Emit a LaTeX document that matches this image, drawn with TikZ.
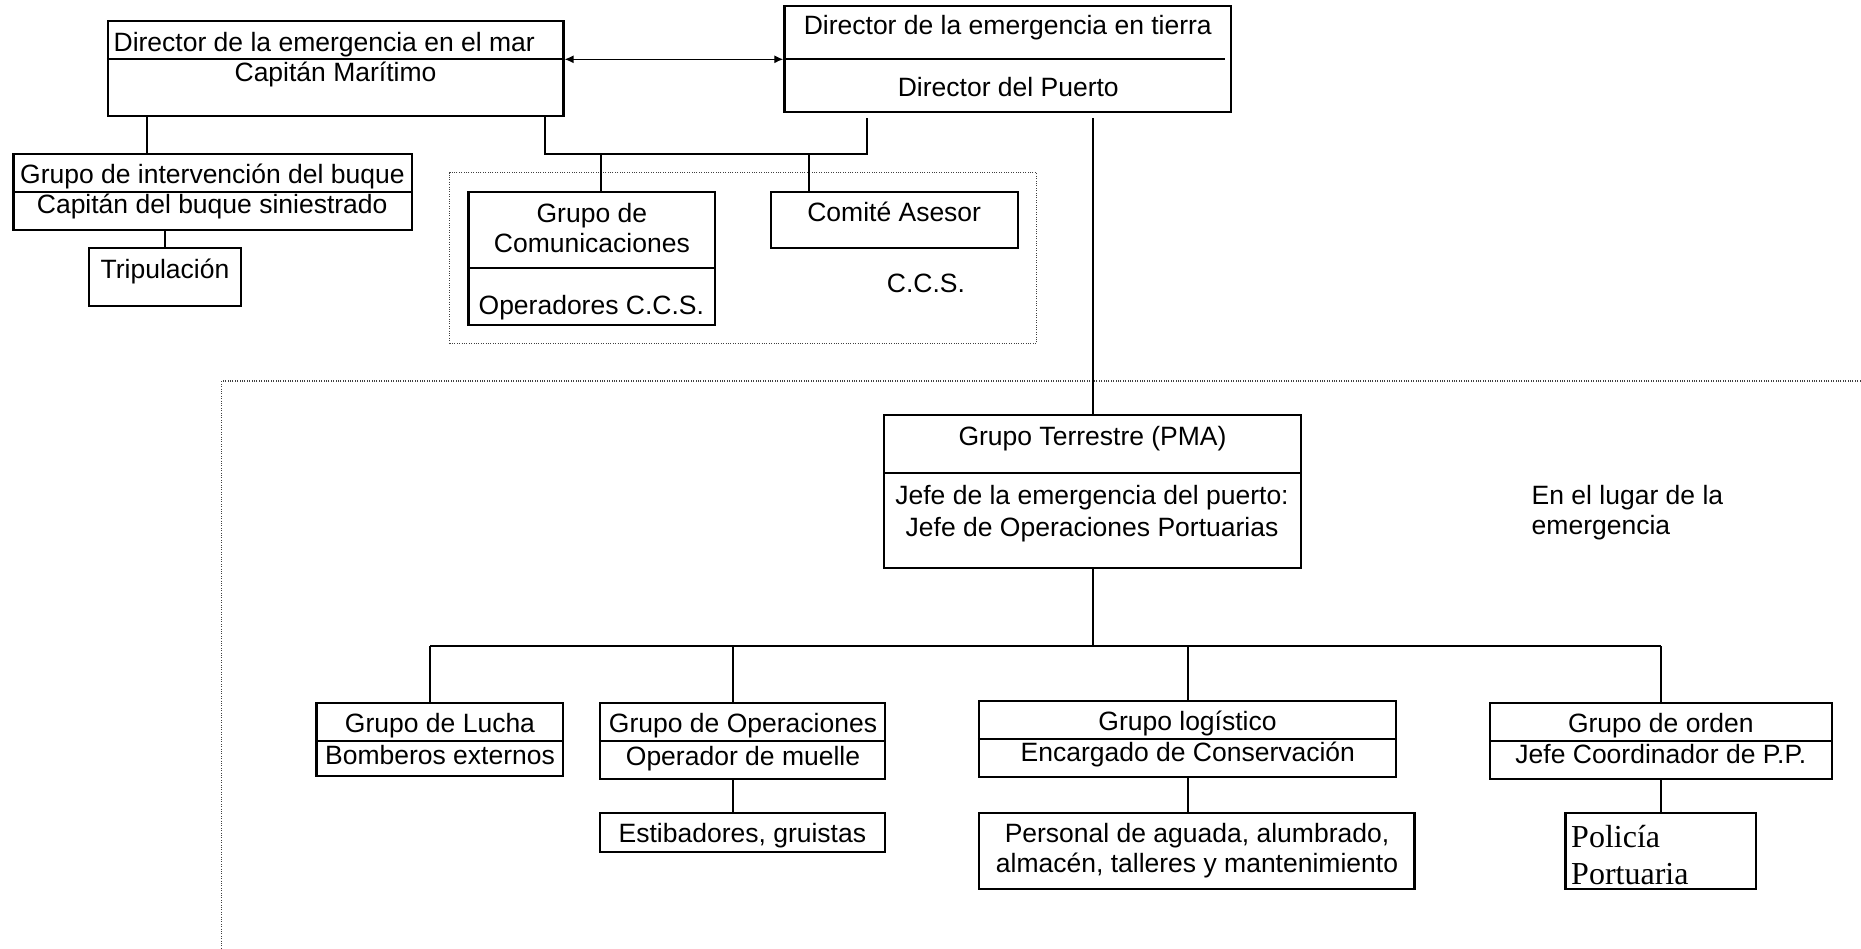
\documentclass[tikz,border=0pt]{standalone}
\usepackage{fontspec}
\setmainfont{Liberation Sans}
\newfontfamily\serifpp{Liberation Serif}
\usetikzlibrary{arrows.meta}
\begin{document}
\begin{tikzpicture}[x=1pt,y=-1pt,
  box/.style={draw, line width=2.2pt, inner sep=0pt, rectangle},
  sepline/.style={line width=2.2pt},
  conn/.style={line width=2pt},
  arr/.style={line width=1.3pt, {Latex[length=9pt,width=8pt]}-{Latex[length=9pt,width=8pt]}},
  dotl/.style={line width=1.2pt, black!75, dash pattern=on 1pt off 1.4pt},
  txt/.style={inner sep=0pt, text height=19pt, text depth=0pt, font=\fontsize{26.5}{30}\selectfont},
  stxt/.style={inner sep=0pt, text height=21pt, text depth=0pt, anchor=west, font=\serifpp\fontsize{32}{37}\selectfont}]
\useasboundingbox (0,0) rectangle (1861,948);

% --- top: sea / land directors
\node[box, minimum width=455.5pt, minimum height=95pt] (mar) at (335.75,68.5) {};
\draw[sepline] (mar.west |- 0,59.3) -- (mar.east |- 0,59.3);
\node[txt] (marA) at (324.25,41.7) {Director de la emergencia en el mar};
\node[txt] (marB) at (335.5,71.7) {Capitán Marítimo};

\node[box, minimum width=446.4pt, minimum height=106pt] (tierra) at (1007.6,58.7) {};
\draw[sepline] (tierra.west |- 0,59.3) -- (1225,59.3);
\node[txt] (tieA) at (1007.8,25) {Director de la emergencia en tierra};
\node[txt] (tieB) at (1008.3,87.3) {Director del Puerto};

\draw[arr] (mar.east |- 0,59.3) -- (tierra.west |- 0,59.3);

% --- ship group
\node[box, minimum width=398.2pt, minimum height=76pt] (interv) at (212.5,192) {};
\draw[sepline] (interv.west |- 0,192.3) -- (interv.east |- 0,192.3);
\node[txt] (intA) at (212.4,174) {Grupo de intervención del buque};
\node[txt] (intB) at (212.2,204) {Capitán del buque siniestrado};

\node[box, minimum width=152pt, minimum height=57.4pt] (trip) at (165,277) {};
\node[txt] (tripA) at (165,269) {Tripulación};

\draw[conn] (mar.south -| 146.7,0) -- (interv.north -| 146.7,0);
\draw[conn] (interv.south -| trip.north) -- (trip.north);

% --- C.C.S. area
\node[draw, dotl, inner sep=0pt, minimum width=587pt, minimum height=170.6pt] (ccsarea) at (743.1,258) {};

\node[box, minimum width=246.7pt, minimum height=132.7pt] (comu) at (591.85,258.65) {};
\draw[sepline] (comu.west |- 0,267.7) -- (comu.east |- 0,267.7);
\node[txt] (comuA) at (591.85,213.3) {Grupo de};
\node[txt] (comuB) at (591.85,243) {Comunicaciones};
\node[txt] (comuC) at (591.3,305) {Operadores C.C.S.};

\node[box, minimum width=247.3pt, minimum height=56.3pt] (comite) at (894.65,220.15) {};
\node[txt] (comA) at (894.2,212.3) {Comité Asesor};
\node[txt] (ccsT) at (925.9,283.3) {C.C.S.};

\coordinate (j1) at (544.5,154);
\coordinate (j2) at (866.5,154);
\coordinate (c1) at (601.4,154);
\coordinate (c2) at (808.9,154);
\draw[conn, shorten >=5pt] (mar.south -| j1) -- (j1) -- (j2) -- (tierra.south -| j2);
\draw[conn] (c1) -- (comu.north -| c1);
\draw[conn] (c2) -- (comite.north -| c2);

% --- on-site area
\draw[dotl] (1875,381) -- (221.8,381) -- (221.8,960);

\node[box, minimum width=416.7pt, minimum height=152.7pt] (terr) at (1092.55,491.35) {};
\draw[sepline] (terr.west |- 0,472.7) -- (terr.east |- 0,472.7);
\node[txt] (terA) at (1092.5,436) {Grupo Terrestre (PMA)};
\node[txt] (terB) at (1092,495) {Jefe de la emergencia del puerto:};
\node[txt] (terC) at (1092,526.7) {Jefe de Operaciones Portuarias};

\draw[conn, shorten <=5pt] (tierra.south -| terr.north) -- (terr.north);

\node[txt, anchor=west] (lugA) at (1531.5,495) {En el lugar de la};
\node[txt, anchor=west] (lugB) at (1531.5,525) {emergencia};

\coordinate (b1) at (430.2,646);
\coordinate (b2) at (733.2,646);
\coordinate (b3) at (1188.4,646);
\coordinate (b4) at (1660.6,646);
\draw[conn] (terr.south) -- (terr.south |- b1);
\draw[conn, line width=2.2pt] (b1) -- (b4);

\node[box, minimum width=246.8pt, minimum height=73.3pt] (lucha) at (439.9,739.35) {};
\draw[sepline] (lucha.west |- 0,740.7) -- (lucha.east |- 0,740.7);
\node[txt] (luA) at (440,723.3) {Grupo de Lucha};
\node[txt] (luB) at (440,755) {Bomberos externos};

\node[box, minimum width=284.8pt, minimum height=76.6pt] (oper) at (742.4,741) {};
\draw[sepline] (oper.west |- 0,740.7) -- (oper.east |- 0,740.7);
\node[txt] (opA) at (743,723.3) {Grupo de Operaciones};
\node[txt] (opB) at (743,756) {Operador de muelle};

\node[box, minimum width=284.8pt, minimum height=38.4pt] (estib) at (742.4,832.5) {};
\node[txt] (esA) at (742.4,833.3) {Estibadores, gruistas};

\node[box, minimum width=416.9pt, minimum height=75.7pt] (logis) at (1187.45,738.85) {};
\draw[sepline] (logis.west |- 0,739) -- (logis.east |- 0,739);
\node[txt] (loA) at (1187.5,721) {Grupo logístico};
\node[txt] (loB) at (1187.8,751.7) {Encargado de Conservación};

\node[box, minimum width=435.5pt, minimum height=76pt] (perso) at (1196.75,851.3) {};
\node[txt] (peA) at (1197,833.3) {Personal de aguada, alumbrado,};
\node[txt] (peB) at (1197,863.3) {almacén, talleres y mantenimiento};

\node[box, minimum width=341.4pt, minimum height=76.6pt] (orden) at (1661,741) {};
\draw[sepline] (orden.west |- 0,740.7) -- (orden.east |- 0,740.7);
\node[txt] (orA) at (1660.8,722.7) {Grupo de orden};
\node[txt] (orB) at (1660.8,754.3) {Jefe Coordinador de P.P.};

\node[box, minimum width=190.5pt, minimum height=76pt] (poli) at (1660.75,851.3) {};
\node[stxt] (poA) at (1571,836.7) {Policía};
\node[stxt] (poB) at (1571,874) {Portuaria};

\draw[conn] (b1) -- (lucha.north -| b1);
\draw[conn] (b2) -- (oper.north -| b2);
\draw[conn] (b3) -- (logis.north -| b3);
\draw[conn] (b4) -- (orden.north -| b4);
\draw[conn] (oper.south -| b2) -- (estib.north -| b2);
\draw[conn] (logis.south -| b3) -- (perso.north -| b3);
\draw[conn] (orden.south -| b4) -- (poli.north -| b4);
\end{tikzpicture}
\end{document}
